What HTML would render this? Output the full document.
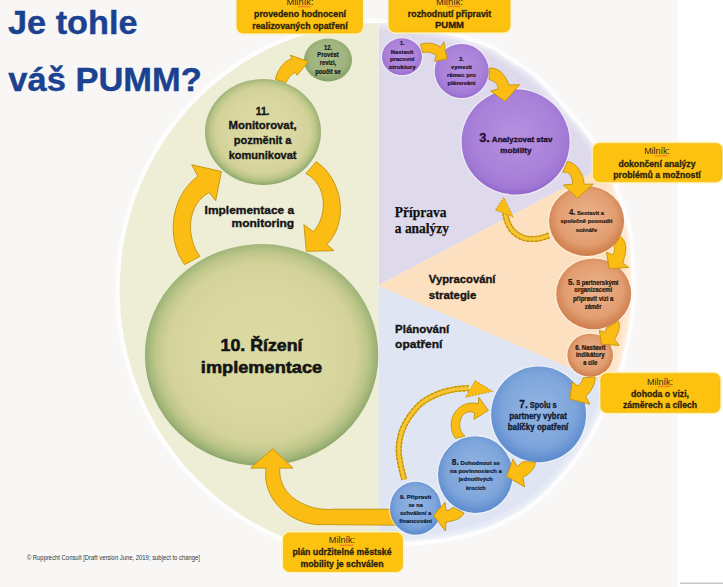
<!DOCTYPE html>
<html><head><meta charset="utf-8"><title>PUMM</title>
<style>
html,body{margin:0;padding:0;width:723px;height:587px;overflow:hidden;background:#fff}
svg{display:block}
</style></head><body>
<svg width="723" height="587" viewBox="0 0 723 587">
<defs>
<clipPath id="cl"><rect x="0" y="0" width="378.5" height="587"/></clipPath>
<clipPath id="ce"><path d="M378.5,23 C380.2,23.1 383.8,22.7 389,23.4 C394.2,24.1 403.2,25.7 410,27 C416.8,28.3 423.4,29.6 430,31 C436.6,32.4 443.8,34.1 449.4,35.5 C455,36.9 459.1,37.9 463.9,39.4 C468.7,40.9 473.6,42.4 478.4,44.2 C483.2,46 488.5,47.7 492.9,50 C497.3,52.3 500.9,55.2 505,57.8 C509.1,60.4 513.1,62.8 517.3,65.5 C521.5,68.2 525.4,70.2 530,74 C534.6,77.8 540,82.9 545,88 C550,93.1 555,98.9 560,104.6 C565,110.3 570.2,116.1 575.3,122.2 C580.4,128.3 585.8,134.1 590.7,141.4 C595.7,148.7 600.5,156.4 605,166 C609.5,175.6 614.2,188.3 618,199 C621.8,209.7 625.4,219.5 627.5,230 C629.6,240.5 629.9,252 630.5,262 C631.1,272 631.3,281.4 631.3,290 C631.2,298.6 630.9,306.6 630.2,313.6 C629.5,320.6 628.5,325.2 627.3,332 C626,338.8 624.4,347.3 622.7,354.5 C621,361.7 619.3,368.2 617,375 C614.7,381.8 611.8,388.7 609,395 C606.2,401.3 603.8,406 600.4,412.8 C597,419.6 592.6,428.5 588.5,435.7 C584.4,442.9 580.2,449.4 575.5,456 C570.8,462.6 565.1,469.1 560,475 C554.9,480.9 550.9,485.9 545.1,491.3 C539.3,496.7 531.7,502.9 525,507.5 C518.3,512.1 511.3,515.7 505,519 C498.7,522.3 493.7,524.9 487,527.3 C480.3,529.7 472.8,531.7 465,533.5 C457.2,535.3 449.2,537 440,538.3 C430.8,539.6 420.2,540.8 410,541.5 C399.8,542.2 383.8,542.3 378.5,542.5 Z"/></clipPath>
<radialGradient id="gG" cx="50%" cy="49%" r="50.5%">
 <stop offset="0" stop-color="#dddaa4"/><stop offset="0.6" stop-color="#d9d7a0"/><stop offset="0.8" stop-color="#d3d299"/><stop offset="0.9" stop-color="#bec689"/><stop offset="0.965" stop-color="#a3b67b"/><stop offset="1" stop-color="#90a96b"/></radialGradient>
<radialGradient id="gG12" cx="50%" cy="45%" r="55%">
 <stop offset="0" stop-color="#a9bb88"/><stop offset="0.7" stop-color="#a0b47e"/><stop offset="1" stop-color="#84a064"/></radialGradient>
<radialGradient id="gP" cx="50%" cy="45%" r="55%">
 <stop offset="0" stop-color="#b590e0"/><stop offset="0.7" stop-color="#a981d9"/><stop offset="0.9" stop-color="#a077d4"/><stop offset="1" stop-color="#9266cb"/></radialGradient>
<radialGradient id="gO" cx="50%" cy="45%" r="55%">
 <stop offset="0" stop-color="#ebb48e"/><stop offset="0.7" stop-color="#e29d70"/><stop offset="1" stop-color="#cd7c4a"/></radialGradient>
<radialGradient id="gB" cx="50%" cy="45%" r="55%">
 <stop offset="0" stop-color="#93b5e2"/><stop offset="0.7" stop-color="#7ea5db"/><stop offset="1" stop-color="#5b8bcd"/></radialGradient>
</defs>
<rect x="0" y="0" width="723" height="587" fill="#ffffff"/>
<rect x="0" y="0" width="678" height="587" fill="#f8f7f5"/>
<rect x="680" y="582.5" width="43" height="1.5" fill="#c8c8c8"/>
<ellipse cx="380.7" cy="289.6" rx="261" ry="266.6" fill="none" stroke="#ffffff" stroke-width="9" stroke-opacity="0.75" clip-path="url(#cl)"/>
<path d="M378.5,23 C380.2,23.1 383.8,22.7 389,23.4 C394.2,24.1 403.2,25.7 410,27 C416.8,28.3 423.4,29.6 430,31 C436.6,32.4 443.8,34.1 449.4,35.5 C455,36.9 459.1,37.9 463.9,39.4 C468.7,40.9 473.6,42.4 478.4,44.2 C483.2,46 488.5,47.7 492.9,50 C497.3,52.3 500.9,55.2 505,57.8 C509.1,60.4 513.1,62.8 517.3,65.5 C521.5,68.2 525.4,70.2 530,74 C534.6,77.8 540,82.9 545,88 C550,93.1 555,98.9 560,104.6 C565,110.3 570.2,116.1 575.3,122.2 C580.4,128.3 585.8,134.1 590.7,141.4 C595.7,148.7 600.5,156.4 605,166 C609.5,175.6 614.2,188.3 618,199 C621.8,209.7 625.4,219.5 627.5,230 C629.6,240.5 629.9,252 630.5,262 C631.1,272 631.3,281.4 631.3,290 C631.2,298.6 630.9,306.6 630.2,313.6 C629.5,320.6 628.5,325.2 627.3,332 C626,338.8 624.4,347.3 622.7,354.5 C621,361.7 619.3,368.2 617,375 C614.7,381.8 611.8,388.7 609,395 C606.2,401.3 603.8,406 600.4,412.8 C597,419.6 592.6,428.5 588.5,435.7 C584.4,442.9 580.2,449.4 575.5,456 C570.8,462.6 565.1,469.1 560,475 C554.9,480.9 550.9,485.9 545.1,491.3 C539.3,496.7 531.7,502.9 525,507.5 C518.3,512.1 511.3,515.7 505,519 C498.7,522.3 493.7,524.9 487,527.3 C480.3,529.7 472.8,531.7 465,533.5 C457.2,535.3 449.2,537 440,538.3 C430.8,539.6 420.2,540.8 410,541.5 C399.8,542.2 383.8,542.3 378.5,542.5" fill="none" stroke="#ffffff" stroke-width="9" stroke-opacity="0.75"/>
<ellipse cx="380.7" cy="289.6" rx="261" ry="266.6" fill="#eeedd6" clip-path="url(#cl)"/>
<g clip-path="url(#ce)">
<polygon points="378.5,0 723,0 723,104 379,285 378.5,285" fill="#dedaeb"/>
<polygon points="379,285 723,104 723,433.5 379,286.6" fill="#fde0bf"/>
<polygon points="378.5,285.8 723,433.5 723,587 378.5,587" fill="#dfe5f3"/>
<path d="M378.5,23 C380.2,23.1 383.8,22.7 389,23.4 C394.2,24.1 403.2,25.7 410,27 C416.8,28.3 423.4,29.6 430,31 C436.6,32.4 443.8,34.1 449.4,35.5 C455,36.9 459.1,37.9 463.9,39.4 C468.7,40.9 473.6,42.4 478.4,44.2 C483.2,46 488.5,47.7 492.9,50 C497.3,52.3 500.9,55.2 505,57.8 C509.1,60.4 513.1,62.8 517.3,65.5 C521.5,68.2 525.4,70.2 530,74 C534.6,77.8 540,82.9 545,88 C550,93.1 555,98.9 560,104.6 C565,110.3 570.2,116.1 575.3,122.2 C580.4,128.3 585.8,134.1 590.7,141.4 C595.7,148.7 600.5,156.4 605,166 C609.5,175.6 614.2,188.3 618,199 C621.8,209.7 625.4,219.5 627.5,230 C629.6,240.5 629.9,252 630.5,262 C631.1,272 631.3,281.4 631.3,290 C631.2,298.6 630.9,306.6 630.2,313.6 C629.5,320.6 628.5,325.2 627.3,332 C626,338.8 624.4,347.3 622.7,354.5 C621,361.7 619.3,368.2 617,375 C614.7,381.8 611.8,388.7 609,395 C606.2,401.3 603.8,406 600.4,412.8 C597,419.6 592.6,428.5 588.5,435.7 C584.4,442.9 580.2,449.4 575.5,456 C570.8,462.6 565.1,469.1 560,475 C554.9,480.9 550.9,485.9 545.1,491.3 C539.3,496.7 531.7,502.9 525,507.5 C518.3,512.1 511.3,515.7 505,519 C498.7,522.3 493.7,524.9 487,527.3 C480.3,529.7 472.8,531.7 465,533.5 C457.2,535.3 449.2,537 440,538.3 C430.8,539.6 420.2,540.8 410,541.5 C399.8,542.2 383.8,542.3 378.5,542.5" fill="none" stroke="#ffffff" stroke-opacity="0.22" stroke-width="12"/>
<path d="M378.5,23 C380.2,23.1 383.8,22.7 389,23.4 C394.2,24.1 403.2,25.7 410,27 C416.8,28.3 423.4,29.6 430,31 C436.6,32.4 443.8,34.1 449.4,35.5 C455,36.9 459.1,37.9 463.9,39.4 C468.7,40.9 473.6,42.4 478.4,44.2 C483.2,46 488.5,47.7 492.9,50 C497.3,52.3 500.9,55.2 505,57.8 C509.1,60.4 513.1,62.8 517.3,65.5 C521.5,68.2 525.4,70.2 530,74 C534.6,77.8 540,82.9 545,88 C550,93.1 555,98.9 560,104.6 C565,110.3 570.2,116.1 575.3,122.2 C580.4,128.3 585.8,134.1 590.7,141.4 C595.7,148.7 600.5,156.4 605,166 C609.5,175.6 614.2,188.3 618,199 C621.8,209.7 625.4,219.5 627.5,230 C629.6,240.5 629.9,252 630.5,262 C631.1,272 631.3,281.4 631.3,290 C631.2,298.6 630.9,306.6 630.2,313.6 C629.5,320.6 628.5,325.2 627.3,332 C626,338.8 624.4,347.3 622.7,354.5 C621,361.7 619.3,368.2 617,375 C614.7,381.8 611.8,388.7 609,395 C606.2,401.3 603.8,406 600.4,412.8 C597,419.6 592.6,428.5 588.5,435.7 C584.4,442.9 580.2,449.4 575.5,456 C570.8,462.6 565.1,469.1 560,475 C554.9,480.9 550.9,485.9 545.1,491.3 C539.3,496.7 531.7,502.9 525,507.5 C518.3,512.1 511.3,515.7 505,519 C498.7,522.3 493.7,524.9 487,527.3 C480.3,529.7 472.8,531.7 465,533.5 C457.2,535.3 449.2,537 440,538.3 C430.8,539.6 420.2,540.8 410,541.5 C399.8,542.2 383.8,542.3 378.5,542.5" fill="none" stroke="#ffffff" stroke-opacity="0.3" stroke-width="5"/>
</g>
<text x="8" y="33.7" font-size="33" font-weight="bold" fill="#1b4290" stroke="#1b4290" stroke-width="0.4" textLength="129.5" lengthAdjust="spacingAndGlyphs" font-family='"Liberation Sans",sans-serif'>Je tohle</text>
<text x="8.3" y="91" font-size="33" font-weight="bold" fill="#1b4290" stroke="#1b4290" stroke-width="0.4" textLength="193.5" lengthAdjust="spacingAndGlyphs" font-family='"Liberation Sans",sans-serif'>váš PUMM?</text>
<ellipse cx="261.6" cy="355" rx="116.7" ry="111" fill="url(#gG)"/>
<path d="M400,509.2 L334,509.2 C309.1,511.8 277.6,496.8 279.8,468.1 L293.1,468.1 L272.7,448.8 L250.6,468.1 L266.1,468.1 C261.2,500.6 293.1,526.7 324,524.6 L400,525.2 Z" fill="#fbbd14" stroke="#c1930b" stroke-width="0.9"/>
<ellipse cx="328" cy="60" rx="24" ry="21.5" fill="url(#gG12)"/>
<path d="M275.3,79.5 C277.4,70.7 282.9,61.4 292,58.6 L290.3,55.2 L308.6,61.6 L297.1,75.3 L295.8,72.6 C291,73.5 288,78.7 286,82.5 Z" fill="#fbbd14" stroke="#c1930b" stroke-width="0.9"/>
<ellipse cx="263" cy="132" rx="58" ry="53" fill="url(#gG)"/>
<ellipse cx="402" cy="56.7" rx="21.4" ry="19.8" fill="#ffffff" opacity="0.4"/><ellipse cx="402" cy="56.7" rx="20" ry="18.4" fill="url(#gP)"/>
<ellipse cx="461.7" cy="71" rx="28.4" ry="28.4" fill="#ffffff" opacity="0.4"/><ellipse cx="461.7" cy="71" rx="27" ry="27" fill="url(#gP)"/>
<ellipse cx="515.6" cy="141.8" rx="55.4" ry="54" fill="#ffffff" opacity="0.4"/><ellipse cx="515.6" cy="141.8" rx="54" ry="52.6" fill="url(#gP)"/>
<ellipse cx="586.6" cy="221" rx="38.9" ry="36.4" fill="#ffffff" opacity="0.4"/><ellipse cx="586.6" cy="221" rx="37.5" ry="35" fill="url(#gO)"/>
<ellipse cx="593.7" cy="293.8" rx="38.9" ry="36.8" fill="#ffffff" opacity="0.4"/><ellipse cx="593.7" cy="293.8" rx="37.5" ry="35.4" fill="url(#gO)"/>
<ellipse cx="590.2" cy="355.2" rx="24.2" ry="22.9" fill="#ffffff" opacity="0.4"/><ellipse cx="590.2" cy="355.2" rx="22.8" ry="21.5" fill="url(#gO)"/>
<ellipse cx="538.6" cy="414.4" rx="48.8" ry="49.2" fill="#ffffff" opacity="0.4"/><ellipse cx="538.6" cy="414.4" rx="47.4" ry="47.8" fill="url(#gB)"/>
<ellipse cx="475.4" cy="474.6" rx="38.8" ry="39.8" fill="#ffffff" opacity="0.4"/><ellipse cx="475.4" cy="474.6" rx="37.4" ry="38.4" fill="url(#gB)"/>
<ellipse cx="415.6" cy="508.3" rx="27" ry="27.9" fill="#ffffff" opacity="0.4"/><ellipse cx="415.6" cy="508.3" rx="25.6" ry="26.5" fill="url(#gB)"/>
<path d="M184.6,264.6 C165.3,238.2 171,195.7 197.9,176.2 L191.7,164.7 L221.4,171.5 L215.7,200.7 L209.1,192.5 C186.3,204.7 186,237.6 199.9,256.4 Z" fill="#fbbd14" stroke="#c1930b" stroke-width="0.9" stroke-linejoin="miter"/>
<path d="M316.2,161.7 C342.4,179 349.5,221.7 326.8,244.5 L334,250.7 L306.4,251.3 L303.9,224.7 L313.5,231.8 C328,215.2 327.4,184.9 306,173.5 Z" fill="#fbbd14" stroke="#c1930b" stroke-width="0.9" stroke-linejoin="miter"/>
<path d="M420.4,44.3 C427.5,42 434.2,43 440.4,47.1 L443.9,41.9 L447,58.9 L434.6,61.3 L436.3,55.7 C432.4,52.4 427.9,51.3 422.8,52.6 Z" fill="#fbbd14" stroke="#c1930b" stroke-width="0.9" stroke-linejoin="miter"/>
<path d="M489.4,68.1 C499.4,66.9 506.3,76.9 509,85.1 L519.6,84.7 L505.1,101.3 L490.7,91.1 L497.9,89 C498.5,83.9 493.5,80.3 489,79.6 Z" fill="#fbbd14" stroke="#c1930b" stroke-width="0.9" stroke-linejoin="miter"/>
<path d="M567.5,161.2 C577.7,163.5 583.5,174.5 584.1,184.2 L593.3,184.2 L577.3,198.2 L563.5,185 L572.6,184.2 C572.8,178.8 570.6,170.4 562.8,172.3 Z" fill="#fbbd14" stroke="#c1930b" stroke-width="0.9" stroke-linejoin="miter"/>
<path d="M620.3,236.5 C628.9,242.8 625.4,254.7 622.6,263 L628.7,267.5 L609.2,268.7 L606.5,252.2 L612.3,254.9 C614.8,252.2 615.3,249.3 613.8,246.1 Z" fill="#fbbd14" stroke="#c1930b" stroke-width="0.9" stroke-linejoin="miter"/>
<path d="M618.6,320.9 C620.6,327.3 618.2,334.1 614.5,339.3 L619.3,345.4 L601.2,344.1 L599.5,330.4 L605,332.5 L606.4,328.1 Z" fill="#fbbd14" stroke="#c1930b" stroke-width="0.9" stroke-linejoin="miter"/>
<path d="M595,376.9 C595.5,384.6 591,391.5 585.7,396.5 L589.9,404.2 L569.9,399.1 L572,382 L578,385.9 C580.6,383.8 582.3,381.1 583.1,377.8 Z" fill="#fbbd14" stroke="#c1930b" stroke-width="0.9" stroke-linejoin="miter"/>
<path d="M535.3,462.3 C535,469.4 528.9,474.4 523,477.2 L524.5,486.8 L506.5,476.4 L513,459.2 L517.3,466.5 L523,461.5 Z" fill="#fbbd14" stroke="#c1930b" stroke-width="0.9" stroke-linejoin="miter"/>
<path d="M464.1,513 C460.9,519.7 452.5,521 446.1,522.2 L445.3,531 L433.5,515.3 L445,502.3 L446.1,510.7 C448.8,510.4 451.1,509.3 453,507.3 Z" fill="#fbbd14" stroke="#c1930b" stroke-width="0.9" stroke-linejoin="miter"/>
<path d="M455.5,438.4 C443.6,421.5 457.8,398.5 478.2,403.8 L478.8,397.3 L488.3,410.4 L474,419.4 L474.6,412.8 C460.3,406.8 454.8,428.8 465,436 Z" fill="#fbbd14" stroke="#c1930b" stroke-width="0.9" stroke-linejoin="miter"/>
<path d="M404.2,479.5 C403.6,477.1 401.5,469.6 400.6,465 C399.7,460.4 398.9,456.2 398.7,452 C398.5,447.8 398.9,443.9 399.6,440 C400.3,436.1 401.2,432.4 402.9,428.5 C404.6,424.6 406.5,420.8 409.6,416.5 C412.7,412.2 416.9,406.7 421.5,403 C426.1,399.3 431.8,396.4 437,394.2 C442.2,392 447.7,390.6 453,389.6 C458.3,388.6 466.3,388.4 469,388.2" fill="none" stroke="#e2ad18" stroke-width="6"/>
<path d="M404.2,479.5 C403.6,477.1 401.5,469.6 400.6,465 C399.7,460.4 398.9,456.2 398.7,452 C398.5,447.8 398.9,443.9 399.6,440 C400.3,436.1 401.2,432.4 402.9,428.5 C404.6,424.6 406.5,420.8 409.6,416.5 C412.7,412.2 416.9,406.7 421.5,403 C426.1,399.3 431.8,396.4 437,394.2 C442.2,392 447.7,390.6 453,389.6 C458.3,388.6 466.3,388.4 469,388.2" fill="none" stroke="#c1920c" stroke-width="6" stroke-dasharray="2.4 1.6"/>
<path d="M404.2,479.5 C403.6,477.1 401.5,469.6 400.6,465 C399.7,460.4 398.9,456.2 398.7,452 C398.5,447.8 398.9,443.9 399.6,440 C400.3,436.1 401.2,432.4 402.9,428.5 C404.6,424.6 406.5,420.8 409.6,416.5 C412.7,412.2 416.9,406.7 421.5,403 C426.1,399.3 431.8,396.4 437,394.2 C442.2,392 447.7,390.6 453,389.6 C458.3,388.6 466.3,388.4 469,388.2" fill="none" stroke="#f7c634" stroke-width="3.2"/>
<polygon points="475.2,380.6 492.5,391.3 465.6,397.3" fill="#fbbd14" stroke="#c1930b" stroke-width="0.9" stroke-dasharray="2 1.3"/>
<path d="M549,235.5 C547.1,236 541.6,238.3 537.5,238.7 C533.4,239.1 528.3,239.3 524.3,238.1 C520.2,236.9 516,234.1 513.2,231.5 C510.4,228.9 509.1,225.7 507.7,222.6 C506.3,219.5 505.4,214.6 505,213" fill="none" stroke="#e2ad18" stroke-width="6"/>
<path d="M549,235.5 C547.1,236 541.6,238.3 537.5,238.7 C533.4,239.1 528.3,239.3 524.3,238.1 C520.2,236.9 516,234.1 513.2,231.5 C510.4,228.9 509.1,225.7 507.7,222.6 C506.3,219.5 505.4,214.6 505,213" fill="none" stroke="#c1920c" stroke-width="6" stroke-dasharray="2.4 1.6"/>
<path d="M549,235.5 C547.1,236 541.6,238.3 537.5,238.7 C533.4,239.1 528.3,239.3 524.3,238.1 C520.2,236.9 516,234.1 513.2,231.5 C510.4,228.9 509.1,225.7 507.7,222.6 C506.3,219.5 505.4,214.6 505,213" fill="none" stroke="#f7c634" stroke-width="3.2"/>
<polygon points="495.5,209.9 503.8,197.4 513.2,217.1" fill="#fbbd14" stroke="#c1930b" stroke-width="0.9" stroke-dasharray="2 1.3"/>
<rect x="236.4" y="-8.6" width="126.7" height="42.2" rx="6.5" fill="none" stroke="#fff2b0" stroke-width="2.4" opacity="0.9"/>
<rect x="237" y="-8" width="125.5" height="41" rx="6" fill="#fdc20f" stroke="#f0b40a" stroke-width="0.6"/>
<text x="300" y="4.8" font-size="9.3" fill="#33291a" text-anchor="middle" textLength="27" lengthAdjust="spacingAndGlyphs" font-family='"Liberation Sans",sans-serif'>Milník:</text>
<polyline points="297.8,6.2 299.1,7.1 300.4,6.2 301.7,7.1 303,6.2 304.3,7.1 305.6,6.2 306.9,7.1 308.2,6.2 309.5,7.1 310.8,6.2" fill="none" stroke="#e0483c" stroke-width="0.75"/>
<text x="300" y="17" font-size="9.3" font-weight="bold" fill="#2a1e0c" stroke="#2a1e0c" stroke-width="0.30" text-anchor="middle" textLength="92" lengthAdjust="spacingAndGlyphs" font-family='"Liberation Sans",sans-serif'>provedeno hodnocení</text>
<text x="300" y="28.5" font-size="9.3" font-weight="bold" fill="#2a1e0c" stroke="#2a1e0c" stroke-width="0.30" text-anchor="middle" textLength="95.4" lengthAdjust="spacingAndGlyphs" font-family='"Liberation Sans",sans-serif'>realizovaných opatření</text>
<rect x="388.4" y="-8.6" width="122.2" height="41.2" rx="6.5" fill="none" stroke="#fff2b0" stroke-width="2.4" opacity="0.9"/>
<rect x="389" y="-8" width="121" height="40" rx="6" fill="#fdc20f" stroke="#f0b40a" stroke-width="0.6"/>
<text x="449.5" y="4.6" font-size="9.3" fill="#33291a" text-anchor="middle" textLength="27" lengthAdjust="spacingAndGlyphs" font-family='"Liberation Sans",sans-serif'>Milník:</text>
<polyline points="447.3,6 448.6,6.9 449.9,6 451.2,6.9 452.5,6 453.8,6.9 455.1,6 456.4,6.9 457.7,6 459,6.9 460.3,6" fill="none" stroke="#e0483c" stroke-width="0.75"/>
<text x="449.5" y="16.6" font-size="9.3" font-weight="bold" fill="#2a1e0c" stroke="#2a1e0c" stroke-width="0.30" text-anchor="middle" textLength="83.4" lengthAdjust="spacingAndGlyphs" font-family='"Liberation Sans",sans-serif'>rozhodnutí připravit</text>
<text x="449.5" y="28.4" font-size="9.3" font-weight="bold" fill="#2a1e0c" stroke="#2a1e0c" stroke-width="0.30" text-anchor="middle" textLength="29" lengthAdjust="spacingAndGlyphs" font-family='"Liberation Sans",sans-serif'>PUMM</text>
<rect x="592.8" y="142.8" width="129.8" height="39.6" rx="6.5" fill="none" stroke="#fff2b0" stroke-width="2.4" opacity="0.9"/>
<rect x="593.4" y="143.4" width="128.6" height="38.4" rx="6" fill="#fdc20f" stroke="#f0b40a" stroke-width="0.6"/>
<text x="657" y="153.9" font-size="9.3" fill="#33291a" text-anchor="middle" textLength="25.7" lengthAdjust="spacingAndGlyphs" font-family='"Liberation Sans",sans-serif'>Milník:</text>
<polyline points="654.9,155.3 656.2,156.2 657.5,155.3 658.8,156.2 660.1,155.3 661.4,156.2 662.7,155.3 664,156.2 665.3,155.3 666.6,156.2 667.9,155.3" fill="none" stroke="#e0483c" stroke-width="0.75"/>
<text x="657" y="166.6" font-size="9.3" font-weight="bold" fill="#2a1e0c" stroke="#2a1e0c" stroke-width="0.30" text-anchor="middle" textLength="77.1" lengthAdjust="spacingAndGlyphs" font-family='"Liberation Sans",sans-serif'>dokončení analýzy</text>
<text x="657" y="177.5" font-size="9.3" font-weight="bold" fill="#2a1e0c" stroke="#2a1e0c" stroke-width="0.30" text-anchor="middle" textLength="87.4" lengthAdjust="spacingAndGlyphs" font-family='"Liberation Sans",sans-serif'>problémů a možností</text>
<rect x="600.2" y="372.8" width="120.4" height="40.2" rx="6.5" fill="none" stroke="#fff2b0" stroke-width="2.4" opacity="0.9"/>
<rect x="600.8" y="373.4" width="119.2" height="39" rx="6" fill="#fdc20f" stroke="#f0b40a" stroke-width="0.6"/>
<text x="660" y="384.5" font-size="9.6" fill="#33291a" text-anchor="middle" textLength="26.1" lengthAdjust="spacingAndGlyphs" font-family='"Liberation Sans",sans-serif'>Milník:</text>
<polyline points="657.9,385.9 659.2,386.8 660.5,385.9 661.8,386.8 663.1,385.9 664.4,386.8 665.7,385.9 667,386.8 668.3,385.9 669.6,386.8 670.9,385.9" fill="none" stroke="#e0483c" stroke-width="0.75"/>
<text x="660" y="396.6" font-size="9.6" font-weight="bold" fill="#2a1e0c" stroke="#2a1e0c" stroke-width="0.30" text-anchor="middle" textLength="58" lengthAdjust="spacingAndGlyphs" font-family='"Liberation Sans",sans-serif'>dohoda o vizi,</text>
<text x="660" y="408" font-size="9.6" font-weight="bold" fill="#2a1e0c" stroke="#2a1e0c" stroke-width="0.30" text-anchor="middle" textLength="74.2" lengthAdjust="spacingAndGlyphs" font-family='"Liberation Sans",sans-serif'>záměrech a cílech</text>
<rect x="282.9" y="532.3" width="120.2" height="39.8" rx="6.5" fill="none" stroke="#fff2b0" stroke-width="2.4" opacity="0.9"/>
<rect x="283.5" y="532.9" width="119" height="38.6" rx="6" fill="#fdc20f" stroke="#f0b40a" stroke-width="0.6"/>
<text x="342" y="543.4" font-size="9.3" fill="#33291a" text-anchor="middle" textLength="26.3" lengthAdjust="spacingAndGlyphs" font-family='"Liberation Sans",sans-serif'>Milník:</text>
<polyline points="339.9,544.8 341.2,545.7 342.5,544.8 343.8,545.7 345.1,544.8 346.4,545.7 347.7,544.8 349,545.7 350.3,544.8 351.6,545.7 352.9,544.8" fill="none" stroke="#e0483c" stroke-width="0.75"/>
<text x="342" y="555.3" font-size="9.3" font-weight="bold" fill="#2a1e0c" stroke="#2a1e0c" stroke-width="0.30" text-anchor="middle" textLength="99.2" lengthAdjust="spacingAndGlyphs" font-family='"Liberation Sans",sans-serif'>plán udržitelné městské</text>
<text x="342" y="566.7" font-size="9.3" font-weight="bold" fill="#2a1e0c" stroke="#2a1e0c" stroke-width="0.30" text-anchor="middle" textLength="83" lengthAdjust="spacingAndGlyphs" font-family='"Liberation Sans",sans-serif'>mobility je schválen</text>
<text x="328" y="49.8" font-size="6.4" font-weight="bold" fill="#141414" stroke="#141414" stroke-width="0.20" text-anchor="middle" textLength="8" lengthAdjust="spacingAndGlyphs" font-family='"Liberation Sans",sans-serif'>12.</text>
<text x="328" y="57.4" font-size="6.4" font-weight="bold" fill="#141414" stroke="#141414" stroke-width="0.20" text-anchor="middle" textLength="21.3" lengthAdjust="spacingAndGlyphs" font-family='"Liberation Sans",sans-serif'>Provést</text>
<text x="328" y="65.4" font-size="6.4" font-weight="bold" fill="#141414" stroke="#141414" stroke-width="0.20" text-anchor="middle" textLength="16.3" lengthAdjust="spacingAndGlyphs" font-family='"Liberation Sans",sans-serif'>revizi,</text>
<text x="328" y="73.6" font-size="6.4" font-weight="bold" fill="#141414" stroke="#141414" stroke-width="0.20" text-anchor="middle" textLength="25.5" lengthAdjust="spacingAndGlyphs" font-family='"Liberation Sans",sans-serif'>poučit se</text>
<text x="262.6" y="114.6" font-size="11.4" font-weight="bold" fill="#141414" stroke="#141414" stroke-width="0.35" text-anchor="middle" textLength="13.7" lengthAdjust="spacingAndGlyphs" font-family='"Liberation Sans",sans-serif'>11.</text>
<text x="262.6" y="129.4" font-size="11.4" font-weight="bold" fill="#141414" stroke="#141414" stroke-width="0.35" text-anchor="middle" textLength="68" lengthAdjust="spacingAndGlyphs" font-family='"Liberation Sans",sans-serif'>Monitorovat,</text>
<text x="262.6" y="144.2" font-size="11.4" font-weight="bold" fill="#141414" stroke="#141414" stroke-width="0.35" text-anchor="middle" textLength="57.6" lengthAdjust="spacingAndGlyphs" font-family='"Liberation Sans",sans-serif'>pozměnit a</text>
<text x="262.6" y="158.8" font-size="11.4" font-weight="bold" fill="#141414" stroke="#141414" stroke-width="0.35" text-anchor="middle" textLength="67.9" lengthAdjust="spacingAndGlyphs" font-family='"Liberation Sans",sans-serif'>komunikovat</text>
<text x="261.5" y="350.6" font-size="17" font-weight="bold" fill="#141414" stroke="#141414" stroke-width="0.60" text-anchor="middle" textLength="82" lengthAdjust="spacingAndGlyphs" font-family='"Liberation Sans",sans-serif'>10. Řízení</text>
<text x="261.5" y="373.4" font-size="17" font-weight="bold" fill="#141414" stroke="#141414" stroke-width="0.60" text-anchor="middle" textLength="121.3" lengthAdjust="spacingAndGlyphs" font-family='"Liberation Sans",sans-serif'>implementace</text>
<text x="402.2" y="45.2" font-size="6" font-weight="bold" fill="#1e0f2e" stroke="#1e0f2e" stroke-width="0.20" text-anchor="middle" textLength="4.5" lengthAdjust="spacingAndGlyphs" font-family='"Liberation Sans",sans-serif'>1.</text>
<text x="402.2" y="53.5" font-size="6" font-weight="bold" fill="#1e0f2e" stroke="#1e0f2e" stroke-width="0.20" text-anchor="middle" textLength="22.7" lengthAdjust="spacingAndGlyphs" font-family='"Liberation Sans",sans-serif'>Nastavit</text>
<text x="402.2" y="61" font-size="6" font-weight="bold" fill="#1e0f2e" stroke="#1e0f2e" stroke-width="0.20" text-anchor="middle" textLength="24.6" lengthAdjust="spacingAndGlyphs" font-family='"Liberation Sans",sans-serif'>pracovní</text>
<text x="402.2" y="68.5" font-size="6" font-weight="bold" fill="#1e0f2e" stroke="#1e0f2e" stroke-width="0.20" text-anchor="middle" textLength="27" lengthAdjust="spacingAndGlyphs" font-family='"Liberation Sans",sans-serif'>struktury</text>
<text x="461.5" y="61.4" font-size="6.2" font-weight="bold" fill="#1e0f2e" stroke="#1e0f2e" stroke-width="0.20" text-anchor="middle" textLength="4.7" lengthAdjust="spacingAndGlyphs" font-family='"Liberation Sans",sans-serif'>2.</text>
<text x="461.5" y="68.9" font-size="6.2" font-weight="bold" fill="#1e0f2e" stroke="#1e0f2e" stroke-width="0.20" text-anchor="middle" textLength="21" lengthAdjust="spacingAndGlyphs" font-family='"Liberation Sans",sans-serif'>vymezit</text>
<text x="461.5" y="76.8" font-size="6.2" font-weight="bold" fill="#1e0f2e" stroke="#1e0f2e" stroke-width="0.20" text-anchor="middle" textLength="28.9" lengthAdjust="spacingAndGlyphs" font-family='"Liberation Sans",sans-serif'>rámec pro</text>
<text x="461.5" y="84.6" font-size="6.2" font-weight="bold" fill="#1e0f2e" stroke="#1e0f2e" stroke-width="0.20" text-anchor="middle" textLength="27.9" lengthAdjust="spacingAndGlyphs" font-family='"Liberation Sans",sans-serif'>plánování</text>
<text x="515.8" y="142" font-size="7.6" font-weight="bold" fill="#1e0f2e" stroke="#1e0f2e" stroke-width="0.30" text-anchor="middle" textLength="73.2" lengthAdjust="spacingAndGlyphs" font-family='"Liberation Sans",sans-serif'><tspan font-size="12.2">3.</tspan> Analyzovat stav</text>
<text x="515.8" y="153.3" font-size="7.6" font-weight="bold" fill="#1e0f2e" stroke="#1e0f2e" stroke-width="0.30" text-anchor="middle" textLength="31.3" lengthAdjust="spacingAndGlyphs" font-family='"Liberation Sans",sans-serif'>mobility</text>
<text x="586.5" y="215.1" font-size="6.2" font-weight="bold" fill="#2a150a" stroke="#2a150a" stroke-width="0.20" text-anchor="middle" textLength="35.1" lengthAdjust="spacingAndGlyphs" font-family='"Liberation Sans",sans-serif'><tspan font-size="8.2">4.</tspan> Sestavit a</text>
<text x="586.5" y="223" font-size="6.2" font-weight="bold" fill="#2a150a" stroke="#2a150a" stroke-width="0.20" text-anchor="middle" textLength="51.8" lengthAdjust="spacingAndGlyphs" font-family='"Liberation Sans",sans-serif'>společně posoudit</text>
<text x="586.5" y="231.5" font-size="6.2" font-weight="bold" fill="#2a150a" stroke="#2a150a" stroke-width="0.20" text-anchor="middle" textLength="21.4" lengthAdjust="spacingAndGlyphs" font-family='"Liberation Sans",sans-serif'>scénáře</text>
<text x="593.2" y="284.6" font-size="6.3" font-weight="bold" fill="#2a150a" stroke="#2a150a" stroke-width="0.20" text-anchor="middle" textLength="50.6" lengthAdjust="spacingAndGlyphs" font-family='"Liberation Sans",sans-serif'><tspan font-size="8.5">5.</tspan> S partnerskými</text>
<text x="593.2" y="292.4" font-size="6.3" font-weight="bold" fill="#2a150a" stroke="#2a150a" stroke-width="0.20" text-anchor="middle" textLength="37.8" lengthAdjust="spacingAndGlyphs" font-family='"Liberation Sans",sans-serif'>organizacemi</text>
<text x="593.2" y="300.8" font-size="6.3" font-weight="bold" fill="#2a150a" stroke="#2a150a" stroke-width="0.20" text-anchor="middle" textLength="40.5" lengthAdjust="spacingAndGlyphs" font-family='"Liberation Sans",sans-serif'>připravit vizi a</text>
<text x="593.2" y="308.6" font-size="6.3" font-weight="bold" fill="#2a150a" stroke="#2a150a" stroke-width="0.20" text-anchor="middle" textLength="16.7" lengthAdjust="spacingAndGlyphs" font-family='"Liberation Sans",sans-serif'>záměr</text>
<text x="590.3" y="349.6" font-size="6.6" font-weight="bold" fill="#2a150a" stroke="#2a150a" stroke-width="0.22" text-anchor="middle" textLength="30.3" lengthAdjust="spacingAndGlyphs" font-family='"Liberation Sans",sans-serif'>6. Nastavit</text>
<text x="590.3" y="357" font-size="6.6" font-weight="bold" fill="#2a150a" stroke="#2a150a" stroke-width="0.22" text-anchor="middle" textLength="28.8" lengthAdjust="spacingAndGlyphs" font-family='"Liberation Sans",sans-serif'>indikátory</text>
<text x="590.3" y="365.3" font-size="6.6" font-weight="bold" fill="#2a150a" stroke="#2a150a" stroke-width="0.22" text-anchor="middle" textLength="14.2" lengthAdjust="spacingAndGlyphs" font-family='"Liberation Sans",sans-serif'>a cíle</text>
<text x="538" y="407.7" font-size="8.2" font-weight="bold" fill="#0f1a33" stroke="#0f1a33" stroke-width="0.30" text-anchor="middle" textLength="37.4" lengthAdjust="spacingAndGlyphs" font-family='"Liberation Sans",sans-serif'><tspan font-size="11.2">7.</tspan> Spolu s</text>
<text x="538" y="419.2" font-size="8.2" font-weight="bold" fill="#0f1a33" stroke="#0f1a33" stroke-width="0.30" text-anchor="middle" textLength="57.6" lengthAdjust="spacingAndGlyphs" font-family='"Liberation Sans",sans-serif'>partnery vybrat</text>
<text x="538" y="429.5" font-size="8.2" font-weight="bold" fill="#0f1a33" stroke="#0f1a33" stroke-width="0.30" text-anchor="middle" textLength="60.7" lengthAdjust="spacingAndGlyphs" font-family='"Liberation Sans",sans-serif'>balíčky opatření</text>
<text x="475.8" y="465.3" font-size="6.2" font-weight="bold" fill="#0f1a33" stroke="#0f1a33" stroke-width="0.20" text-anchor="middle" textLength="47.9" lengthAdjust="spacingAndGlyphs" font-family='"Liberation Sans",sans-serif'><tspan font-size="8.8">8.</tspan> Dohodnout se</text>
<text x="475.8" y="473.4" font-size="6.2" font-weight="bold" fill="#0f1a33" stroke="#0f1a33" stroke-width="0.20" text-anchor="middle" textLength="51.8" lengthAdjust="spacingAndGlyphs" font-family='"Liberation Sans",sans-serif'>na povinnostech a</text>
<text x="475.8" y="481.1" font-size="6.2" font-weight="bold" fill="#0f1a33" stroke="#0f1a33" stroke-width="0.20" text-anchor="middle" textLength="34.2" lengthAdjust="spacingAndGlyphs" font-family='"Liberation Sans",sans-serif'>jednotlivých</text>
<text x="475.8" y="489.6" font-size="6.2" font-weight="bold" fill="#0f1a33" stroke="#0f1a33" stroke-width="0.20" text-anchor="middle" textLength="19.6" lengthAdjust="spacingAndGlyphs" font-family='"Liberation Sans",sans-serif'>krocích</text>
<text x="415.6" y="499.1" font-size="6" font-weight="bold" fill="#0f1a33" stroke="#0f1a33" stroke-width="0.20" text-anchor="middle" textLength="31.3" lengthAdjust="spacingAndGlyphs" font-family='"Liberation Sans",sans-serif'>9. Připravit</text>
<text x="415.6" y="506.7" font-size="6" font-weight="bold" fill="#0f1a33" stroke="#0f1a33" stroke-width="0.20" text-anchor="middle" textLength="14.3" lengthAdjust="spacingAndGlyphs" font-family='"Liberation Sans",sans-serif'>se na</text>
<text x="415.6" y="514.6" font-size="6" font-weight="bold" fill="#0f1a33" stroke="#0f1a33" stroke-width="0.20" text-anchor="middle" textLength="31.2" lengthAdjust="spacingAndGlyphs" font-family='"Liberation Sans",sans-serif'>schválení a</text>
<text x="415.6" y="522.5" font-size="6" font-weight="bold" fill="#0f1a33" stroke="#0f1a33" stroke-width="0.20" text-anchor="middle" textLength="32.5" lengthAdjust="spacingAndGlyphs" font-family='"Liberation Sans",sans-serif'>financování</text>
<text x="394.8" y="216.7" font-size="14" font-weight="bold" fill="#111111" stroke="#111111" stroke-width="0.25" text-anchor="start" textLength="51.7" lengthAdjust="spacingAndGlyphs" font-family='"Liberation Serif",serif'>Příprava</text>
<text x="394.8" y="233.4" font-size="14" font-weight="bold" fill="#111111" stroke="#111111" stroke-width="0.25" text-anchor="start" textLength="54.2" lengthAdjust="spacingAndGlyphs" font-family='"Liberation Serif",serif'>a analýzy</text>
<text x="428.8" y="282.6" font-size="11.8" font-weight="bold" fill="#141414" stroke="#141414" stroke-width="0.35" text-anchor="start" textLength="66.7" lengthAdjust="spacingAndGlyphs" font-family='"Liberation Sans",sans-serif'>Vypracování</text>
<text x="428.8" y="298.5" font-size="11.8" font-weight="bold" fill="#141414" stroke="#141414" stroke-width="0.35" text-anchor="start" textLength="47.6" lengthAdjust="spacingAndGlyphs" font-family='"Liberation Sans",sans-serif'>strategie</text>
<text x="395.1" y="333" font-size="11.4" font-weight="bold" fill="#141414" stroke="#141414" stroke-width="0.35" text-anchor="start" textLength="54" lengthAdjust="spacingAndGlyphs" font-family='"Liberation Sans",sans-serif'>Plánování</text>
<text x="395.1" y="347.7" font-size="11.4" font-weight="bold" fill="#141414" stroke="#141414" stroke-width="0.35" text-anchor="start" textLength="47.3" lengthAdjust="spacingAndGlyphs" font-family='"Liberation Sans",sans-serif'>opatření</text>
<text x="294.2" y="213.6" font-size="11.2" font-weight="bold" fill="#141414" stroke="#141414" stroke-width="0.35" text-anchor="end" textLength="89.6" lengthAdjust="spacingAndGlyphs" font-family='"Liberation Sans",sans-serif'>Implementace a</text>
<text x="294.2" y="227.3" font-size="11.2" font-weight="bold" fill="#141414" stroke="#141414" stroke-width="0.35" text-anchor="end" textLength="62.7" lengthAdjust="spacingAndGlyphs" font-family='"Liberation Sans",sans-serif'>monitoring</text>
<text x="26.9" y="559.6" font-size="6.3" fill="#333333" textLength="173" lengthAdjust="spacingAndGlyphs" font-family='"Liberation Sans",sans-serif'>© Rupprecht Consult [Draft version June, 2019; subject to change]</text>
</svg>
</body></html>
